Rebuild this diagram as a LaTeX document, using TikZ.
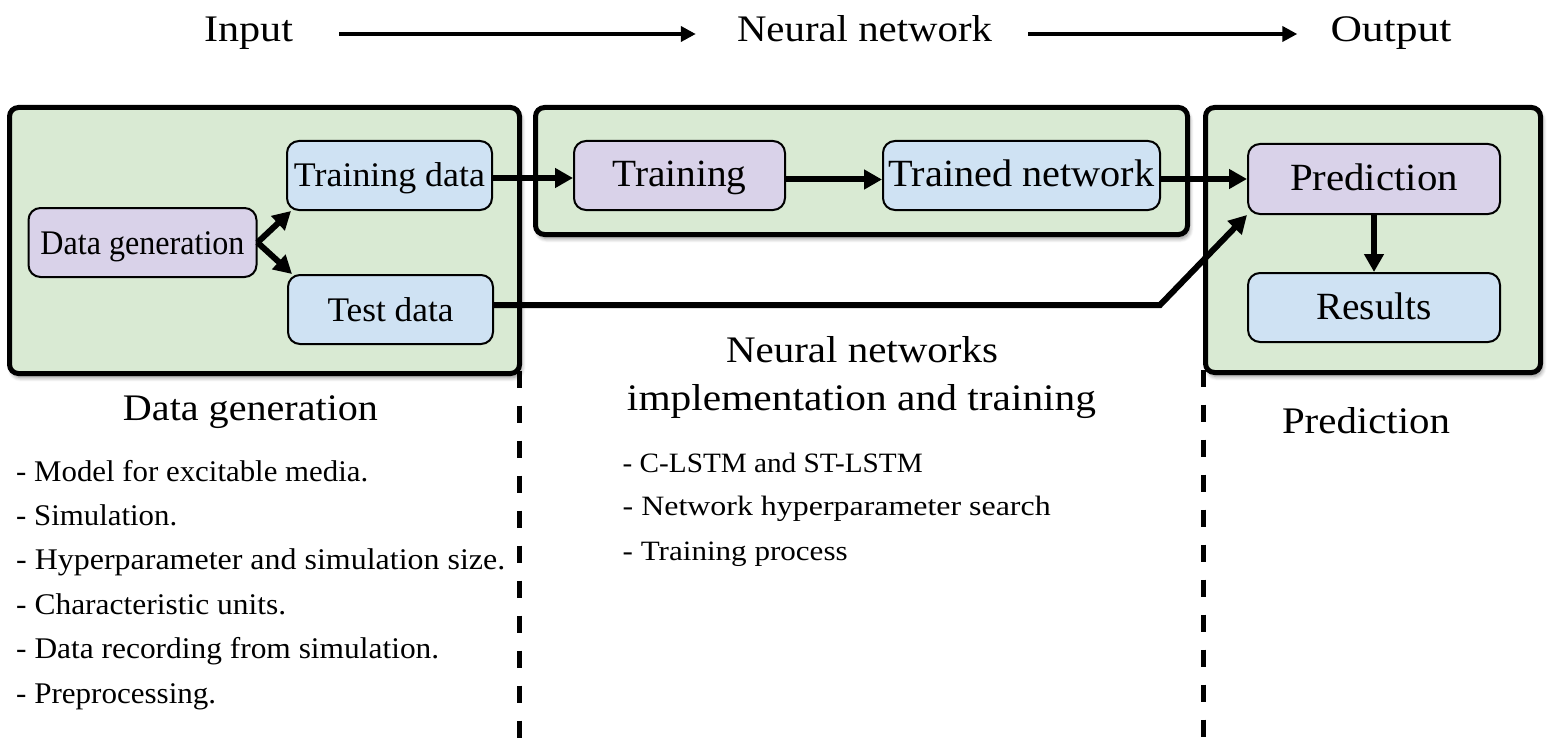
\documentclass[tikz,border=0pt]{standalone}
\usepackage{fontspec}
\setmainfont{Liberation Serif}
\usepackage{graphicx}
\usetikzlibrary{arrows.meta,shadows.blur}
\definecolor{gfill}{HTML}{D9EAD3}
\definecolor{pfill}{HTML}{D9D2E9}
\definecolor{bfill}{HTML}{CFE2F3}
\newcommand{\tw}[2]{\resizebox{#1pt}{\height}{#2}}
\tikzset{
  outerbox/.style={draw, line width=5pt, rounded corners=9pt, fill=gfill, outer sep=0pt,
    blur shadow={shadow xshift=2pt, shadow yshift=-4pt, shadow blur radius=4pt,
      shadow blur steps=6, shadow opacity=45}},
  inbox/.style={draw, line width=2pt, rounded corners=12pt, inner sep=0pt,
    text height=30pt, text depth=7pt},
  pbox/.style={inbox, fill=pfill},
  bbox/.style={inbox, fill=bfill},
  fsmall/.style={font=\fontsize{34.5}{40}\selectfont},
  fbig/.style={font=\fontsize{38.5}{44}\selectfont},
  flow/.style={line width=6pt, -{Triangle[length=18pt,width=19pt]}},
  hdr/.style={inner sep=0pt, anchor=base, text height=25pt, text depth=9pt,
    font=\fontsize{37.5}{42}\selectfont},
  harrow/.style={line width=4.5pt, -{Triangle[length=15pt,width=15pt]}},
  ttl/.style={inner sep=0pt, anchor=base, font=\fontsize{37.5}{42}\selectfont},
  lstA/.style={inner sep=0pt, anchor=base west, font=\fontsize{30}{34}\selectfont},
  lstB/.style={inner sep=0pt, anchor=base west, font=\fontsize{28}{32}\selectfont},
  sepline/.style={line width=5pt, dash pattern=on 17pt off 18pt},
}
\begin{document}
\begin{tikzpicture}[x=1pt, y=-1pt]
\useasboundingbox (0,0) rectangle (1557,738);

% header
\node[hdr] (in) at (248.5,42) {\tw{89}{Input}};
\node[hdr] (nn) at (864.5,42) {\tw{255}{Neural network}};
\node[hdr] (out) at (1391,42) {\tw{121}{Output}};
\draw[harrow, shorten <=46pt, shorten >=41pt] (in.east) -- (nn.west);
\draw[harrow, shorten <=36pt, shorten >=33pt] (nn.east) -- (out.west);

% outer boxes
\node[outerbox, minimum width=510pt, minimum height=266pt] (b1) at (264.5,240.5) {};
\node[outerbox, minimum width=652pt, minimum height=127pt] (b2) at (861.5,171) {};
\node[outerbox, minimum width=335pt, minimum height=265pt] (b3) at (1373,240) {};

% separators
\draw[sepline] ([yshift=3pt]b1.south east) -- (b1.south east |- 0,738);
\draw[sepline] ([xshift=-2pt,yshift=3pt]b3.south west) -- ([xshift=-2pt]b3.south west |- 0,738);

% inner boxes
\node[pbox, fsmall, minimum width=228pt, minimum height=69pt] (dg) at (142.5,242.5) {\tw{204}{Data generation}};
\node[bbox, fsmall, minimum width=205pt, minimum height=69pt] (trd) at (389.5,175.5) {\tw{191}{Training data}};
\node[bbox, fsmall, minimum width=205pt, minimum height=69pt] (ted) at (390.5,309.5) {\tw{126}{Test data}};
\node[pbox, fbig, minimum width=211pt, minimum height=69pt] (trn) at (679.5,175.5) {\tw{134}{Training}};
\node[bbox, fbig, minimum width=277pt, minimum height=69pt] (tnet) at (1021.5,175.5) {\tw{266}{Trained network}};
\node[pbox, fbig, minimum width=252pt, minimum height=70pt] (pred) at (1374,179) {\tw{168}{Prediction}};
\node[bbox, fbig, minimum width=252pt, minimum height=69pt] (res) at (1374,307.5) {\tw{116}{Results}};

% connectors
\coordinate (bend) at (1160,305);
\draw[flow] (dg.east) -- ([xshift=5pt]trd.south west);
\draw[flow] (dg.east) -- ([xshift=5pt]ted.north west);
\draw[flow] ([yshift=-2.5pt]trd.east) -- ([yshift=-2.5pt]trn.west);
\draw[flow] ([yshift=-4pt]trn.east) -- ([yshift=-4pt]tnet.west);
\draw[flow] (tnet.east |- pred.west) -- (pred.west);
\draw[flow] ([yshift=4.5pt]ted.east) -- (bend) -- (pred.south west);
\draw[flow] (pred) -- (res);

% titles
\node[ttl] (t1) at (250.5,420) {\tw{255}{Data generation}};
\node[ttl] (t2a) at (862,362) {\tw{272}{Neural networks}};
\node[ttl] (t2b) at (861.5,410) {\tw{469}{implementation and training}};
\node[ttl] (t3) at (1366,433) {\tw{168}{Prediction}};

% lists
\node[lstA] (a1) at (16,481) {\tw{352}{- Model for excitable media.}};
\node[lstA] (a2) at (16,525.4) {\tw{161}{- Simulation.}};
\node[lstA] (a3) at (16,569.8) {\tw{489}{- Hyperparameter and simulation size.}};
\node[lstA] (a4) at (16,614.2) {\tw{270}{- Characteristic units.}};
\node[lstA] (a5) at (16,658.6) {\tw{423}{- Data recording from simulation.}};
\node[lstA] (a6) at (16,703) {\tw{200}{- Preprocessing.}};

\node[lstB] (c1) at (622.5,472) {\tw{300}{- C-LSTM and ST-LSTM}};
\node[lstB] (c2) at (622.5,515) {\tw{428}{- Network hyperparameter search}};
\node[lstB] (c3) at (622.5,560) {\tw{225}{- Training process}};
\end{tikzpicture}
\end{document}
